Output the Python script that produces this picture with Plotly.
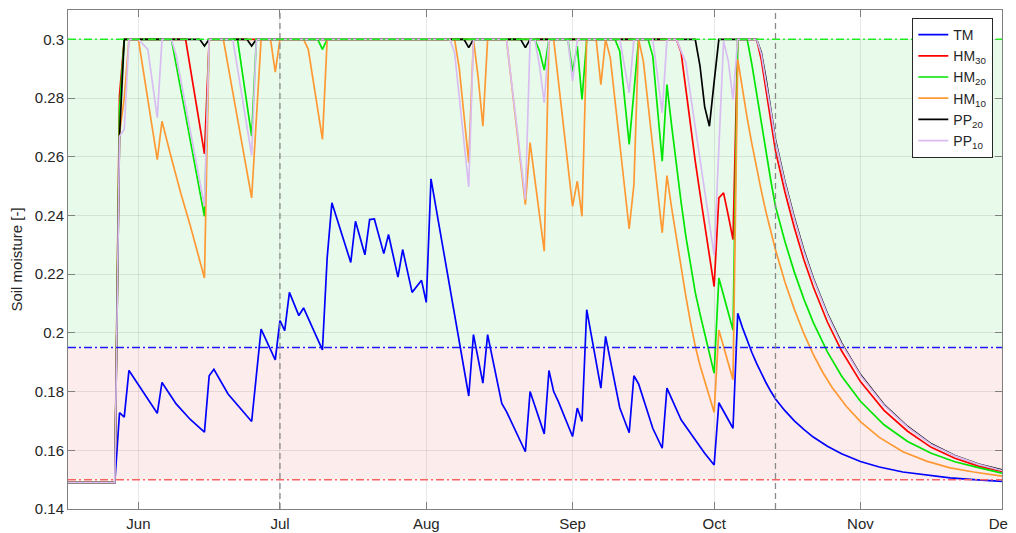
import pandas as pd
import plotly.graph_objects as go

START = "2021-06-01"  # day 0 of the day offsets below

# threshold levels and markers
FIELD_CAP = 0.3
REFILL = 0.195
WILT = 0.15
MARKERS = ["2021-07-01", "2021-10-14"]

tm_day = [-15, -5, -4, -3, -2, 4, 5, 8, 11, 14, 15, 16, 19, 24, 26, 29, 30, 31, 32, 34, 35, 39, 40, 41,
          45, 46, 48, 49, 50, 52, 53, 55, 56, 58, 60, 61, 62, 70, 71, 73, 74, 77, 78, 80, 82, 83, 86, 87,
          88, 89, 92, 93, 94, 95, 98, 99, 102, 104, 105, 106, 109, 111, 112, 115, 118, 120, 122, 123,
          126, 127, 128, 129, 130, 131, 132, 133, 134, 135, 137, 139, 141, 143, 146, 149, 153, 157,
          162, 167, 172, 177, 183]
tm_val = [0.149, 0.149, 0.1728, 0.1713, 0.1872, 0.1726, 0.1831, 0.1758, 0.1705, 0.1662, 0.1854, 0.1876,
          0.1792, 0.1698, 0.2013, 0.1908, 0.2042, 0.2008, 0.2138, 0.2059, 0.2085, 0.1942, 0.2255, 0.2443,
          0.224, 0.238, 0.2266, 0.2386, 0.2388, 0.227, 0.2335, 0.219, 0.2284, 0.2138, 0.2179, 0.2104,
          0.2525, 0.1785, 0.1994, 0.1829, 0.1994, 0.176, 0.1732, 0.1665, 0.1595, 0.18, 0.1656, 0.1872,
          0.18, 0.1766, 0.1647, 0.1744, 0.1698, 0.2079, 0.1812, 0.1988, 0.1745, 0.166, 0.1854, 0.1826,
          0.1675, 0.1607, 0.1812, 0.1704, 0.1635, 0.159, 0.155, 0.1762, 0.1675, 0.2067, 0.2018, 0.1974,
          0.1933, 0.1896, 0.1861, 0.183, 0.1801, 0.1775, 0.1735, 0.170, 0.1671, 0.1645, 0.1614, 0.1588,
          0.1562, 0.1543, 0.1526, 0.1515, 0.1506, 0.150, 0.1494]

hm30_day = [-15, -5, -4, -3, 10, 14, 15, 114, 115, 116, 117, 118, 119, 120, 121, 122, 123, 124, 125, 126,
            127, 131, 132, 133, 134, 135, 137, 139, 141, 143, 146, 149, 153, 158, 163, 168, 173, 178, 183]
hm30_val = [0.149, 0.149, 0.281, 0.3, 0.3, 0.261, 0.3, 0.3, 0.2955, 0.2825, 0.2705, 0.2585, 0.2475,
            0.2365, 0.226, 0.2158, 0.246, 0.2477, 0.240, 0.2318, 0.3, 0.3, 0.293, 0.283, 0.2725, 0.262,
            0.248, 0.2358, 0.225, 0.2157, 0.2037, 0.1939, 0.1834, 0.1736, 0.1665, 0.161, 0.1573, 0.1546,
            0.1528]

hm20_day = [-15, -5, -4, -3, 7, 14, 15, 21, 24, 25, 38, 39, 40, 84, 85, 86, 87, 91, 92, 93, 94, 95, 101,
            102, 104, 105, 106, 108, 109, 111, 112, 113, 114, 115, 116, 117, 118, 119, 120, 121, 122, 123,
            124, 125, 126, 127, 129, 130, 131, 132, 133, 134, 135, 137, 139, 141, 143, 146, 149, 153, 158,
            163, 168, 173, 178, 183]
hm20_val = [0.149, 0.149, 0.276, 0.3, 0.3, 0.2397, 0.3, 0.3, 0.267, 0.3, 0.3, 0.2966, 0.3, 0.3, 0.296,
            0.2895, 0.3, 0.3, 0.289, 0.2977, 0.2795, 0.3, 0.3, 0.296, 0.2642, 0.281, 0.3, 0.3, 0.2943,
            0.2585, 0.2846, 0.2705, 0.257, 0.2445, 0.233, 0.2228, 0.2138, 0.2065, 0.1995, 0.1928, 0.1863,
            0.2187, 0.2128, 0.2068, 0.201, 0.3, 0.3, 0.2915, 0.2815, 0.2715, 0.2615, 0.252, 0.2431, 0.2311,
            0.2207, 0.2116, 0.2036, 0.1935, 0.1853, 0.1767, 0.1687, 0.163, 0.159, 0.1561, 0.1541, 0.1522]

hm10_day = [-15, -5, -4, -3, -2, 0, 4, 5, 7, 9, 11, 13, 14, 15, 18, 24, 25, 26, 28, 29, 30, 35, 36, 39,
            40, 67, 68, 70, 71, 72, 73, 74, 78, 82, 83, 86, 87, 88, 92, 93, 94, 95, 97, 98, 99, 100, 104,
            105, 106, 107, 111, 112, 113, 114, 115, 116, 117, 118, 119, 120, 121, 122, 123, 124, 125, 126,
            127, 128, 129, 130, 131, 132, 133, 135, 137, 139, 141, 143, 145, 147, 150, 153, 157, 162, 167,
            172, 177, 183]
hm10_val = [0.149, 0.149, 0.268, 0.28, 0.3, 0.3, 0.259, 0.2721, 0.2595, 0.2475, 0.2365, 0.2245, 0.2187,
            0.3, 0.3, 0.246, 0.273, 0.3, 0.3, 0.2888, 0.3, 0.3, 0.2966, 0.2659, 0.3, 0.3, 0.29, 0.258, 0.3,
            0.287, 0.2704, 0.3, 0.3, 0.2437, 0.2648, 0.2278, 0.3, 0.3, 0.2431, 0.2517, 0.2397, 0.3, 0.3,
            0.2846, 0.3, 0.2937, 0.2354, 0.2505, 0.3, 0.2926, 0.2341, 0.2536, 0.2425, 0.232, 0.222, 0.2125,
            0.2035, 0.1955, 0.189, 0.1835, 0.178, 0.173, 0.201, 0.1955, 0.19, 0.184, 0.2932, 0.2828,
            0.2732, 0.2644, 0.256, 0.2484, 0.2411, 0.2283, 0.2173, 0.208, 0.1998, 0.1927, 0.1866, 0.1814,
            0.175, 0.1698, 0.1644, 0.1595, 0.1563, 0.154, 0.1526, 0.1512]

pp20_day = [-15, -5, -4, -3, 13, 14, 15, 23, 24, 25, 69, 70, 71, 81, 82, 83, 118, 119, 120, 121, 122, 123,
            131, 132, 133, 134, 135, 137, 139, 141, 143, 146, 149, 153, 158, 163, 168, 173, 178, 183]
pp20_val = [0.149, 0.149, 0.267, 0.3, 0.3, 0.2977, 0.3, 0.3, 0.2977, 0.3, 0.3, 0.2972, 0.3, 0.3, 0.2972,
            0.3, 0.3, 0.291, 0.277, 0.2704, 0.2855, 0.3, 0.3, 0.2955, 0.2865, 0.2762, 0.2658, 0.2515,
            0.2392, 0.2282, 0.2187, 0.2066, 0.1966, 0.1858, 0.1756, 0.1681, 0.1622, 0.1582, 0.1553, 0.1533]

pp10_day = [-15, -5, -4, -3, -2, 0, 2, 4, 5, 7, 8, 14, 15, 20, 24, 25, 66, 67, 70, 71, 78, 82, 83, 84, 85,
            86, 87, 91, 92, 93, 102, 104, 105, 109, 111, 112, 114, 116, 117, 118, 119, 120, 121, 122, 123,
            124, 125, 126, 127, 131, 132, 133, 134, 135, 137, 139, 141, 143, 146, 149, 153, 158, 163, 168,
            173, 178, 183]
pp10_val = [0.149, 0.149, 0.267, 0.2693, 0.3, 0.3, 0.2966, 0.2733, 0.3, 0.3, 0.2945, 0.2431, 0.3, 0.3,
            0.2605, 0.3, 0.3, 0.2955, 0.2497, 0.3, 0.3, 0.2455, 0.3, 0.3, 0.291, 0.2784, 0.3, 0.3, 0.2858,
            0.3, 0.3, 0.2818, 0.3, 0.3, 0.275, 0.3, 0.3, 0.292, 0.281, 0.27, 0.259, 0.248, 0.237, 0.2265,
            0.263, 0.2994, 0.2926, 0.2795, 0.3, 0.3, 0.295, 0.286, 0.2756, 0.2652, 0.251, 0.2387, 0.2277,
            0.2183, 0.2062, 0.1962, 0.1855, 0.1753, 0.1679, 0.162, 0.1581, 0.1552, 0.1531]

SERIES = [
    ("TM", tm_day, tm_val, "#0000ff"),
    ("HM<sub>30</sub>", hm30_day, hm30_val, "#ff0000"),
    ("HM<sub>20</sub>", hm20_day, hm20_val, "#00e600"),
    ("HM<sub>10</sub>", hm10_day, hm10_val, "#ff9933"),
    ("PP<sub>20</sub>", pp20_day, pp20_val, "#000000"),
    ("PP<sub>10</sub>", pp10_day, pp10_val, "#d9bdf2"),
]


def to_dates(days):
    return pd.Timestamp(START) + pd.to_timedelta(days, unit="D")


fig = go.Figure()
for name, days, vals, color in SERIES:
    fig.add_trace(go.Scatter(x=to_dates(days), y=vals, name=name, mode="lines",
                             line=dict(color=color, width=1.7)))

shapes = [
    dict(type="rect", xref="paper", x0=0, x1=1, y0=REFILL, y1=FIELD_CAP,
         fillcolor="#e8fbeb", line_width=0, layer="below"),
    dict(type="rect", xref="paper", x0=0, x1=1, y0=WILT, y1=REFILL,
         fillcolor="#fdecec", line_width=0, layer="below"),
]
for y, color in [(FIELD_CAP, "#22ee22"), (REFILL, "#1a1aff"), (WILT, "#ff6060")]:
    shapes.append(dict(type="line", xref="paper", x0=0, x1=1, y0=y, y1=y, layer="above",
                       line=dict(color=color, width=1.5, dash="8px,3px,2px,3px")))
for d in MARKERS:
    shapes.append(dict(type="line", yref="paper", x0=d, x1=d, y0=0, y1=1, layer="above",
                       line=dict(color="#8a8a8a", width=1.3, dash="6px,4px")))

axis_style = dict(showline=True, linecolor="#808080", linewidth=1, mirror="ticks", ticks="inside",
                  ticklen=7, tickcolor="#808080", showgrid=True, gridcolor="rgba(0,0,0,0.09)",
                  zeroline=False, automargin=False, tickfont=dict(size=15, color="#262626"))

# the page body adds an 8px margin, so the figure is sized to the remaining window
fig.update_layout(
    width=1008, height=525,
    margin=dict(l=60, r=14, t=2, b=24),
    paper_bgcolor="white", plot_bgcolor="white",
    font=dict(family="Liberation Sans, Arial, sans-serif", size=15, color="#262626"),
    shapes=shapes,
    showlegend=True,
    legend=dict(x=0.9907, y=0.984, xanchor="right", yanchor="top", bgcolor="white",
                bordercolor="#262626", borderwidth=1, font=dict(size=14)),
)
fig.update_xaxes(range=["2021-05-17 02:00", "2021-12-01"], dtick="M1", tickformat="%b",
                 tick0="2021-06-01", ticklabelstandoff=1, ticklabeloverflow="allow", **axis_style)
fig.update_yaxes(range=[0.14, 0.31], dtick=0.02, tick0=0.14, title=dict(text="Soil moisture [-]",
                 font=dict(size=15)), **axis_style)

fig.write_html("out.html")
